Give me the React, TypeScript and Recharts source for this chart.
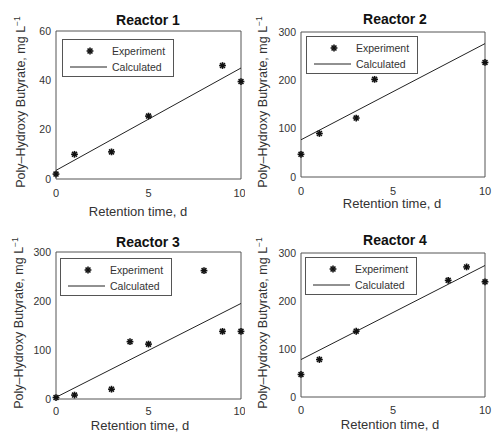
import {
  ComposedChart,
  Scatter,
  Line,
  XAxis,
  YAxis,
  ReferenceArea,
  Legend,
} from 'recharts';

// shared axis ticks
const xTicks = [0, 5, 10];
const yTicksSmall = [0, 20, 40, 60];
const yTicksLarge = [0, 100, 200, 300];

// Reactor 1
const r1ExpX = [0, 1, 3, 5, 9, 10];
const r1ExpY = [2, 10, 11, 25.5, 46, 39.5];
const r1CalcX = [0, 10];
const r1CalcY = [3.5, 45];

// Reactor 2
const r2ExpX = [0, 1, 3, 4, 10];
const r2ExpY = [47, 90, 122, 202, 237];
const r2CalcX = [0, 10];
const r2CalcY = [77, 276];

// Reactor 3
const r3ExpX = [0, 1, 3, 4, 5, 8, 9, 10];
const r3ExpY = [3, 8, 20, 117, 112, 262, 138, 138];
const r3CalcX = [0, 10];
const r3CalcY = [3.5, 195];

// Reactor 4
const r4ExpX = [0, 1, 3, 8, 9, 10];
const r4ExpY = [47, 78, 137, 243, 271, 240];
const r4CalcX = [0, 10];
const r4CalcY = [78, 274];

const FONT = '"Liberation Sans", Arial, sans-serif';
const TEXT = '#333';

const toPoints = (xs: number[], ys: number[]) => xs.map((x, i) => ({ x, y: ys[i] }));

const Asterisk = (props: any) => {
  const { cx, cy } = props;
  const r = 3.4;
  const d = r * 0.72;
  return (
    <g stroke="#111" strokeWidth={1.6}>
      <line x1={cx - r} y1={cy} x2={cx + r} y2={cy} />
      <line x1={cx} y1={cy - r} x2={cx} y2={cy + r} />
      <line x1={cx - d} y1={cy - d} x2={cx + d} y2={cy + d} />
      <line x1={cx - d} y1={cy + d} x2={cx + d} y2={cy - d} />
    </g>
  );
};

const LegendBox = () => (
  <svg width={112} height={38} style={{ display: 'block' }}>
    <rect x={0.5} y={0.5} width={111} height={37} fill="#fff" stroke="#555" />
    <Asterisk cx={28} cy={12} />
    <line x1={8} y1={28} x2={45} y2={28} stroke="#222" />
    <text x={50} y={16} fontSize={10.5} fill={TEXT} fontFamily={FONT}>Experiment</text>
    <text x={50} y={32} fontSize={10.5} fill={TEXT} fontFamily={FONT}>Calculated</text>
  </svg>
);

interface PanelProps {
  title: string;
  exp: Array<{ x: number; y: number }>;
  calc: Array<{ x: number; y: number }>;
  yMax: number;
  yTicks: number[];
  left: number;
  top: number;
  width: number;
  height: number;
  margin: { top: number; right: number; bottom: number; left: number };
  xTickMargin: number;
  legendPos: { left: number; top: number };
  titlePos: [number, number];
  xLabelPos: [number, number];
  yLabelPos: [number, number];
}

function Panel(p: PanelProps) {
  const centered = (x: number, y: number, extra: React.CSSProperties = {}): React.CSSProperties => ({
    position: 'absolute',
    left: x,
    top: y,
    transform: 'translate(-50%, -50%)',
    whiteSpace: 'nowrap',
    fontFamily: FONT,
    color: TEXT,
    lineHeight: 1,
    ...extra,
  });

  return (
    <>
      <div style={{ position: 'absolute', left: p.left, top: p.top }}>
        <ComposedChart width={p.width} height={p.height} margin={p.margin}>
          <XAxis
            dataKey="x"
            type="number"
            domain={[0, 10]}
            ticks={xTicks}
            axisLine={false}
            tickLine={false}
            tickSize={0}
            tickMargin={p.xTickMargin}
            height={20}
            tick={{ fontSize: 11, fill: TEXT, fontFamily: FONT }}
          />
          <YAxis
            dataKey="y"
            type="number"
            domain={[0, p.yMax]}
            ticks={p.yTicks}
            axisLine={false}
            tickLine={false}
            tickSize={0}
            tickMargin={5}
            width={56}
            tick={{ fontSize: 10.5, fill: TEXT, fontFamily: FONT }}
          />
          <ReferenceArea x1={0} x2={10} y1={0} y2={p.yMax} fill="none" stroke="#555" strokeWidth={1} />
          <Line
            data={p.calc}
            dataKey="y"
            type="linear"
            stroke="#222"
            strokeWidth={1}
            dot={false}
            isAnimationActive={false}
          />
          <Scatter data={p.exp} dataKey="y" shape={Asterisk} isAnimationActive={false} />
          <Legend
            layout="vertical"
            align="center"
            verticalAlign="middle"
            content={() => <LegendBox />}
            wrapperStyle={{ left: p.legendPos.left, top: p.legendPos.top, width: 112, height: 38 }}
          />
        </ComposedChart>
      </div>
      <div style={centered(p.titlePos[0], p.titlePos[1], { fontSize: 14, fontWeight: 'bold', color: '#111' })}>
        {p.title}
      </div>
      <div style={centered(p.xLabelPos[0], p.xLabelPos[1], { fontSize: 13 })}>Retention time, d</div>
      <div
        style={centered(p.yLabelPos[0], p.yLabelPos[1], {
          fontSize: 12.5,
          transform: 'translate(-50%, -50%) rotate(-90deg)',
        })}
      >
        Poly–Hydroxy Butyrate, mg L<sup style={{ fontSize: 8.5 }}>−1</sup>
      </div>
    </>
  );
}

export default function App() {
  return (
    <div style={{ position: 'absolute', left: 0, top: 0, width: 493, height: 437, background: '#fff', overflow: 'hidden' }}>
      <Panel
        title="Reactor 1"
        exp={toPoints(r1ExpX, r1ExpY)}
        calc={toPoints(r1CalcX, r1CalcY)}
        yMax={60}
        yTicks={yTicksSmall}
        left={0}
        top={0}
        width={245}
        height={218}
        margin={{ top: 31, right: 4, bottom: 19, left: 0 }}
        xTickMargin={10}
        legendPos={{ left: 62, top: 39 }}
        titlePos={[148, 20]}
        xLabelPos={[138, 211]}
        yLabelPos={[20, 102]}
      />
      <Panel
        title="Reactor 2"
        exp={toPoints(r2ExpX, r2ExpY)}
        calc={toPoints(r2CalcX, r2CalcY)}
        yMax={300}
        yTicks={yTicksLarge}
        left={245}
        top={0}
        width={248}
        height={218}
        margin={{ top: 32, right: 8, bottom: 21, left: 0 }}
        xTickMargin={10}
        legendPos={{ left: 61, top: 36 }}
        titlePos={[395, 19]}
        xLabelPos={[392, 203]}
        yLabelPos={[262, 102]}
      />
      <Panel
        title="Reactor 3"
        exp={toPoints(r3ExpX, r3ExpY)}
        calc={toPoints(r3CalcX, r3CalcY)}
        yMax={300}
        yTicks={yTicksLarge}
        left={0}
        top={218}
        width={245}
        height={219}
        margin={{ top: 34, right: 4, bottom: 18, left: 0 }}
        xTickMargin={8}
        legendPos={{ left: 60, top: 40 }}
        titlePos={[148, 242]}
        xLabelPos={[140, 425]}
        yLabelPos={[18, 323]}
      />
      <Panel
        title="Reactor 4"
        exp={toPoints(r4ExpX, r4ExpY)}
        calc={toPoints(r4CalcX, r4CalcY)}
        yMax={300}
        yTicks={yTicksLarge}
        left={245}
        top={218}
        width={248}
        height={219}
        margin={{ top: 35, right: 8, bottom: 20, left: 0 }}
        xTickMargin={9}
        legendPos={{ left: 60, top: 39 }}
        titlePos={[395, 240]}
        xLabelPos={[390, 424]}
        yLabelPos={[262, 323]}
      />
    </div>
  );
}
